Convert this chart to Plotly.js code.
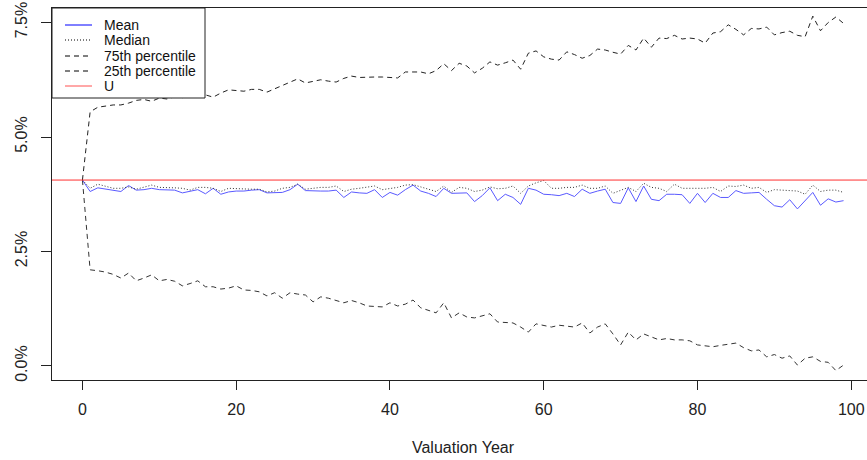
<!DOCTYPE html>
<html>
<head>
<meta charset="utf-8">
<script src="https://cdn.plot.ly/plotly-3.0.1.min.js"></script>
<style>
html,body{margin:0;padding:0;overflow:hidden;background:#fff;}
#chart{width:874px;height:460px;}
</style>
</head>
<body>
<div id="chart"></div>
<script>
// Valuation years
const years = Array.from({length: 100}, (_, i) => i);

// Series values (percent)
const meanVals = [4.06,3.81,3.89,3.86,3.84,3.81,3.94,3.84,3.85,3.88,
  3.85,3.84,3.84,3.78,3.82,3.85,3.76,3.88,3.75,3.80,
  3.82,3.82,3.84,3.85,3.78,3.78,3.79,3.85,3.97,3.83,
  3.82,3.82,3.82,3.84,3.68,3.80,3.78,3.77,3.85,3.68,
  3.79,3.73,3.85,3.95,3.82,3.77,3.70,3.88,3.77,3.78,
  3.78,3.59,3.72,3.89,3.61,3.75,3.68,3.53,3.88,3.84,
  3.75,3.74,3.72,3.77,3.70,3.86,3.77,3.82,3.86,3.57,
  3.55,3.89,3.59,3.93,3.64,3.61,3.75,3.75,3.74,3.55,
  3.77,3.57,3.77,3.68,3.68,3.83,3.77,3.78,3.79,3.64,
  3.50,3.47,3.63,3.43,3.60,3.79,3.51,3.65,3.58,3.61];

const medianVals = [4.06,3.88,3.97,3.92,3.88,3.88,3.91,3.86,3.90,3.95,
  3.90,3.90,3.89,3.88,3.84,3.90,3.90,3.88,3.81,3.88,
  3.87,3.86,3.86,3.86,3.80,3.82,3.88,3.90,3.97,3.86,
  3.88,3.90,3.90,3.93,3.81,3.86,3.88,3.90,3.93,3.85,
  3.88,3.90,3.95,3.96,3.91,3.86,3.81,3.93,3.79,3.90,
  3.88,3.81,3.84,3.91,3.87,3.88,3.93,3.77,3.93,4.00,
  4.05,3.88,3.88,3.90,3.90,3.95,3.88,3.88,3.93,3.77,
  3.84,3.90,3.81,3.99,3.90,3.88,3.81,3.97,3.88,3.88,
  3.88,3.88,3.90,3.81,3.93,3.92,3.95,3.88,3.90,3.79,
  3.85,3.84,3.84,3.82,3.75,3.95,3.81,3.84,3.84,3.79];

const p75Vals = [4.06,5.55,5.65,5.68,5.70,5.70,5.74,5.80,5.82,5.78,
  5.85,5.83,5.88,5.86,5.90,5.88,5.92,5.87,5.96,6.03,
  6.01,6.00,6.04,6.04,5.98,6.05,6.13,6.20,6.27,6.18,
  6.22,6.25,6.22,6.20,6.28,6.33,6.30,6.31,6.31,6.31,
  6.30,6.29,6.42,6.42,6.42,6.38,6.45,6.60,6.45,6.61,
  6.55,6.40,6.50,6.64,6.57,6.62,6.68,6.48,6.83,6.88,
  6.75,6.70,6.68,6.86,6.80,6.72,6.78,6.92,6.90,6.85,
  6.81,7.00,6.90,7.16,6.96,7.16,7.15,7.22,7.14,7.16,
  7.14,7.05,7.27,7.30,7.45,7.35,7.23,7.37,7.36,7.40,
  7.23,7.28,7.31,7.22,7.19,7.64,7.32,7.50,7.62,7.48];

const p25Vals = [4.06,2.10,2.08,2.05,2.00,1.92,2.03,1.86,1.92,1.99,
  1.86,1.89,1.85,1.75,1.80,1.86,1.73,1.73,1.68,1.70,
  1.75,1.66,1.65,1.62,1.53,1.60,1.48,1.60,1.57,1.55,
  1.40,1.51,1.48,1.43,1.38,1.43,1.38,1.31,1.30,1.29,
  1.38,1.31,1.35,1.44,1.27,1.22,1.16,1.38,1.05,1.16,
  1.07,1.05,1.10,1.14,0.96,0.95,0.94,0.85,0.74,0.92,
  0.88,0.85,0.89,0.87,0.85,0.94,0.72,0.85,0.92,0.70,
  0.46,0.74,0.57,0.70,0.64,0.57,0.60,0.57,0.57,0.55,
  0.46,0.44,0.42,0.45,0.48,0.50,0.40,0.33,0.35,0.20,
  0.25,0.17,0.22,0.02,0.17,0.20,0.10,0.08,-0.10,0.02];

const uValue = 4.06;

// Tick labels
const xTickVals = [0, 20, 40, 60, 80, 100];
const yTickVals = [0, 2.5, 5.0, 7.5];
const yTickText = ["0.0%", "2.5%", "5.0%", "7.5%"];

// Legend entries
const legendNames = ["Mean", "Median", "75th percentile", "25th percentile", "U"];
const legendColors = ["blue", "black", "black", "black", "#ff5050"];
const legendDash = ["solid", "1px,2px", "5px,4px", "5px,4px", "solid"];

const FONT = "Liberation Sans, Arial, sans-serif";

const traces = [
  {x: years, y: p75Vals, name: legendNames[2], type: "scatter", mode: "lines",
   line: {color: "#222", width: 1, dash: legendDash[2]}},
  {x: years, y: p25Vals, name: legendNames[3], type: "scatter", mode: "lines",
   line: {color: "#333", width: 1, dash: legendDash[3]}},
  {x: years, y: meanVals, name: legendNames[0], type: "scatter", mode: "lines",
   line: {color: "#5a5aff", width: 1, dash: "solid"}},
  {x: years, y: medianVals, name: legendNames[1], type: "scatter", mode: "lines",
   line: {color: "#333", width: 1, dash: legendDash[1]}}
];

// Manual legend (R-style) in paper coordinates
const plotW = 874 - 52, plotH = 380 - 8;
const px = v => (v - 52) / plotW;
const py = v => (380 - v) / plotH;
const rowY = [25, 40, 56, 71, 86];

const shapes = [
  {type: "line", xref: "paper", yref: "y", x0: 0, x1: 1, y0: uValue, y1: uValue,
   line: {color: "#ff3030", width: 1}, layer: "above"},
  {type: "rect", xref: "paper", yref: "paper", x0: 0, x1: px(205), y0: py(98), y1: 1,
   fillcolor: "white", line: {color: "#222", width: 1}, layer: "above"}
];
const annotations = [];
legendNames.forEach((n, i) => {
  shapes.push({type: "line", xref: "paper", yref: "paper",
    x0: px(65), x1: px(92), y0: py(rowY[i]), y1: py(rowY[i]),
    line: {color: legendColors[i], width: 1, dash: legendDash[i]}, layer: "above"});
  annotations.push({xref: "paper", yref: "paper", x: px(102), y: py(rowY[i]),
    xanchor: "left", yanchor: "middle", text: n, showarrow: false,
    font: {family: FONT, size: 14, color: "#111"}});
});

const layout = {
  width: 874, height: 460,
  margin: {l: 52, r: 0, t: 8, b: 80, pad: 0},
  paper_bgcolor: "white", plot_bgcolor: "white",
  showlegend: false,
  font: {family: FONT, size: 16, color: "#222"},
  xaxis: {
    range: [-3.96, 102.96], tickvals: xTickVals, ticks: "outside", ticklen: 9,
    tickcolor: "#222", showline: true, mirror: true, linecolor: "#222", linewidth: 1,
    showgrid: false, zeroline: false, ticklabelstandoff: 6,
    tickfont: {family: FONT, size: 16, color: "#222"},
    title: {text: "Valuation Year", font: {family: FONT, size: 16, color: "#222"}, standoff: 24}
  },
  yaxis: {
    range: [-0.306, 7.817], tickvals: yTickVals, ticktext: yTickText, ticks: "outside", ticklen: 10,
    tickcolor: "#222", tickangle: -90, showline: true, mirror: true, linecolor: "#222", linewidth: 1,
    showgrid: false, zeroline: false, ticklabelstandoff: 8,
    tickfont: {family: FONT, size: 16, color: "#222"}
  },
  shapes: shapes,
  annotations: annotations
};

Plotly.newPlot("chart", traces, layout, {displayModeBar: false, staticPlot: true});
</script>
</body>
</html>
